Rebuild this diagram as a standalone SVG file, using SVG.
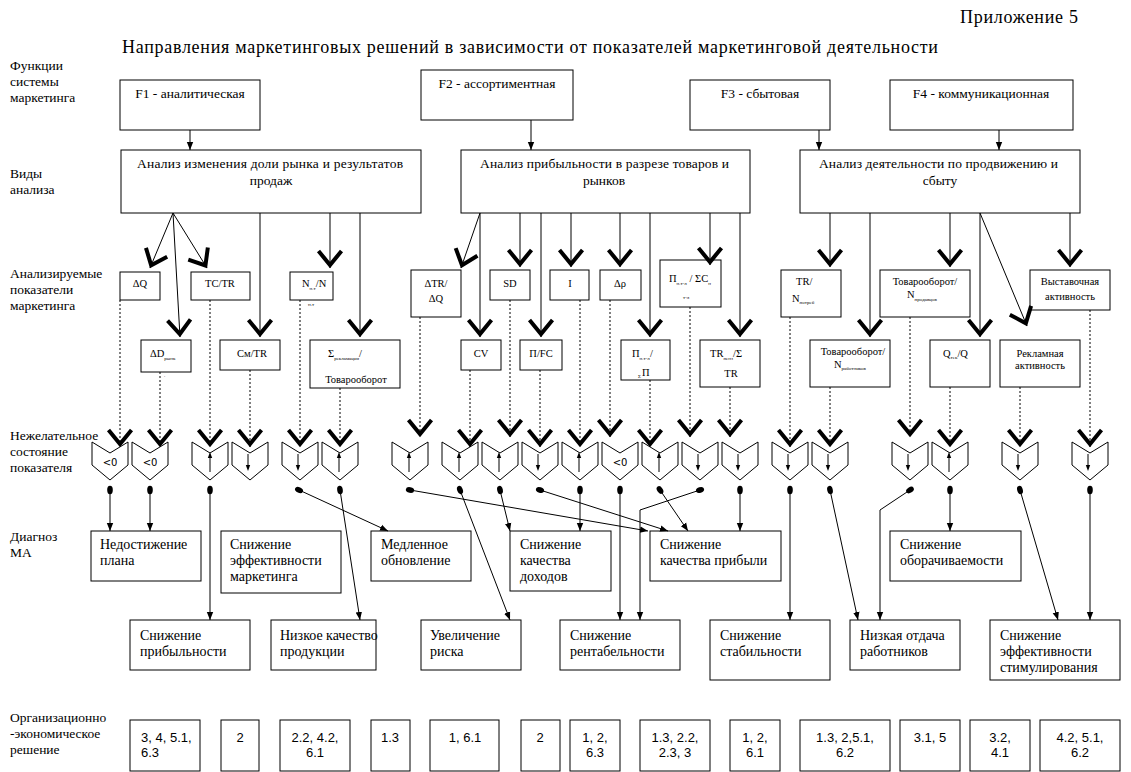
<svg xmlns="http://www.w3.org/2000/svg" xmlns:xlink="http://www.w3.org/1999/xlink" width="1131" height="772" viewBox="0 0 1131 772">
<style>
text{font-family:"Liberation Serif",serif;fill:#000}
.lbl{font-size:13.5px}
.box{fill:#fff;stroke:#000;stroke-width:1}
.ft{font-size:13.5px}
.ind{font-size:10.5px}
.sub{font-size:5px}
.dg{font-size:14px}
.num{font-family:"Liberation Sans",sans-serif;font-size:13px}
.lt{font-family:"DejaVu Sans",sans-serif;font-size:10px}
.c{fill:none;stroke:#000;stroke-width:1}
.sa{marker-end:url(#tri)}
.va{marker-end:url(#vee)}
.dot{stroke-dasharray:2 2}
.dc{marker-start:url(#oval);marker-end:url(#tri)}
</style>
<defs>
<marker id="tri" viewBox="0 0 10 10" refX="10" refY="5" markerWidth="8" markerHeight="8" markerUnits="userSpaceOnUse" orient="auto"><path d="M0,1 L10,5 L0,9 Z" fill="#000"/></marker>
<marker id="vee" viewBox="-20 -14 24 28" refX="0" refY="0" markerWidth="24" markerHeight="28" markerUnits="userSpaceOnUse" orient="auto" overflow="visible"><path d="M-17,-11.5 L-3,0 L-17,11.5" fill="none" stroke="#000" stroke-width="4" stroke-linejoin="miter"/></marker>
<marker id="oval" viewBox="-5 -4 10 8" refX="0" refY="0" markerWidth="10" markerHeight="8" markerUnits="userSpaceOnUse" orient="auto"><ellipse cx="0" cy="0" rx="4.2" ry="2.8" fill="#000"/></marker>
<path id="chev" d="M-18,0 L0,11 L18,0 L18,23 L0,38 L-18,23 Z"/>
<g id="up"><path d="M0,30 V14" fill="none" stroke="#000"/><path d="M-2.2,16 L0,10 L2.2,16 Z" fill="#000"/></g>
<g id="dn"><path d="M0,12 V25" fill="none" stroke="#000"/><path d="M-2.2,23 L0,29 L2.2,23 Z" fill="#000"/></g>
</defs>
<rect width="1131" height="772" fill="#fff"/>

<text x="960" y="23" font-size="18" textLength="118">Приложение 5</text>
<text x="122" y="53" font-size="18" textLength="816">Направления маркетинговых решений в зависимости от показателей маркетинговой деятельности</text>

<g id="row-labels" class="lbl">
<text x="10" y="70">Функции</text><text x="10" y="86">системы</text><text x="10" y="102">маркетинга</text>
<text x="10" y="178">Виды</text><text x="10" y="194">анализа</text>
<text x="10" y="278">Анализируемые</text><text x="10" y="294">показатели</text><text x="10" y="310">маркетинга</text>
<text x="10" y="440">Нежелательное</text><text x="10" y="456">состояние</text><text x="10" y="472">показателя</text>
<text x="10" y="541">Диагноз</text><text x="10" y="557">МА</text>
<text x="10" y="722">Организационно</text><text x="10" y="738">-экономическое</text><text x="10" y="754">решение</text>
</g>

<g id="F1"><rect class="box" x="120" y="80" width="140" height="50"/><text class="ft" x="190" y="98" text-anchor="middle">F1 - аналитическая</text></g>
<g id="F2"><rect class="box" x="421" y="70" width="152" height="50"/><text class="ft" x="497" y="88" text-anchor="middle">F2 - ассортиментная</text></g>
<g id="F3"><rect class="box" x="690" y="80" width="140" height="50"/><text class="ft" x="760" y="98" text-anchor="middle">F3 - сбытовая</text></g>
<g id="F4"><rect class="box" x="890" y="80" width="183" height="50"/><text class="ft" x="981" y="98" text-anchor="middle">F4 - коммуникационная</text></g>

<g id="A1"><rect class="box" x="121" y="150" width="300" height="63"/><text class="ft" x="137" y="168" textLength="266">Анализ изменения доли рынка и результатов</text><text class="ft" x="271" y="185" text-anchor="middle">продаж</text></g>
<g id="A2"><rect class="box" x="461" y="150" width="289" height="63"/><text class="ft" x="480" y="168" textLength="249">Анализ прибыльности в разрезе товаров и</text><text class="ft" x="604" y="185" text-anchor="middle">рынков</text></g>
<g id="A3"><rect class="box" x="800" y="150" width="280" height="63"/><text class="ft" x="819" y="168" textLength="239">Анализ деятельности по продвижению и</text><text class="ft" x="940" y="185" text-anchor="middle">сбыту</text></g>

<!-- indicators -->
<g id="i-dQ"><rect class="box" x="120" y="272" width="40" height="28"/><text class="ind" x="140" y="287" text-anchor="middle">ΔQ</text></g>
<g id="i-TCTR"><rect class="box" x="191" y="272" width="59" height="28"/><text class="ind" x="220" y="287" text-anchor="middle">TC/TR</text></g>
<g id="i-N"><rect class="box" x="290" y="272" width="43" height="28"/><text class="ind" x="302" y="287">N<tspan class="sub" dy="3">н.т</tspan><tspan dy="-3">/N</tspan></text><text class="sub" x="308" y="306">н.т</text></g>
<g id="i-dD"><rect class="box" x="141" y="340" width="50" height="32"/><text class="ind" x="150" y="357">ΔD<tspan class="sub" dy="3">рынк</tspan></text><text class="sub" x="164" y="377">.</text></g>
<g id="i-CmTR"><rect class="box" x="220" y="340" width="60" height="30"/><text class="ind" x="252" y="357" text-anchor="middle">Cм/TR</text></g>
<g id="i-Srek"><rect class="box" x="310" y="340" width="90" height="48"/><text class="ind" x="328" y="357">Σ<tspan class="sub" dy="3">рекламация</tspan><tspan dy="-3">/</tspan></text><text class="ind" x="356" y="383" text-anchor="middle">Товарооборот</text></g>
<g id="i-dTRdQ"><rect class="box" x="411" y="270" width="50" height="47"/><text class="ind" x="436" y="287" text-anchor="middle">ΔTR/</text><text class="ind" x="436" y="302" text-anchor="middle">ΔQ</text></g>
<g id="i-SD"><rect class="box" x="490" y="270" width="40" height="30"/><text class="ind" x="510" y="287" text-anchor="middle">SD</text></g>
<g id="i-I"><rect class="box" x="550" y="270" width="39" height="30"/><text class="ind" x="570" y="287" text-anchor="middle">I</text></g>
<g id="i-drho"><rect class="box" x="600" y="270" width="41" height="30"/><text class="ind" x="620" y="287" text-anchor="middle">Δρ</text></g>
<g id="i-PSC"><rect class="box" x="660" y="260" width="61" height="47"/><text class="ind" x="669" y="282">П<tspan class="sub" dy="3">н.т-л</tspan><tspan dy="-3"> / ΣC</tspan><tspan class="sub" dy="3">н</tspan></text><text class="sub" x="683" y="299">т-л</text></g>
<g id="i-CV"><rect class="box" x="461" y="340" width="40" height="30"/><text class="ind" x="481" y="357" text-anchor="middle">CV</text></g>
<g id="i-PFC"><rect class="box" x="520" y="340" width="42" height="30"/><text class="ind" x="541" y="357" text-anchor="middle">П/FC</text></g>
<g id="i-PSP"><rect class="box" x="621" y="340" width="49" height="40"/><text class="ind" x="632" y="357">П<tspan class="sub" dy="3">н.т-л</tspan><tspan dy="-3">/</tspan></text><text class="sub" x="638" y="378">Σ</text><text class="ind" x="642" y="376">П</text></g>
<g id="i-TRpenz"><rect class="box" x="700" y="340" width="60" height="47"/><text class="ind" x="710" y="357">TR<tspan class="sub" dy="3">пенз</tspan><tspan dy="-3">/Σ</tspan></text><text class="ind" x="731" y="377" text-anchor="middle">TR</text></g>
<g id="i-TRNp"><rect class="box" x="781" y="270" width="60" height="47"/><text class="ind" x="796" y="285">TR/</text><text class="ind" x="792" y="302">N<tspan class="sub" dy="2">потреб</tspan></text></g>
<g id="i-TovNprod"><rect class="box" x="880" y="270" width="90" height="47"/><text class="ind" x="925" y="285" text-anchor="middle">Товарооборот/</text><text class="ind" x="907" y="298">N<tspan class="sub" dy="3">продавцов</tspan></text></g>
<g id="i-Vyst"><rect class="box" x="1030" y="270" width="80" height="40"/><text class="ind" x="1070" y="285" text-anchor="middle">Выставочная</text><text class="ind" x="1070" y="300" text-anchor="middle">активность</text></g>
<g id="i-TovNrab"><rect class="box" x="810" y="340" width="80" height="47"/><text class="ind" x="853" y="355" text-anchor="middle">Товарооборот/</text><text class="ind" x="834" y="368">N<tspan class="sub" dy="2">работников</tspan></text></g>
<g id="i-Qtek"><rect class="box" x="930" y="340" width="60" height="47"/><text class="ind" x="943" y="357">Q<tspan class="sub" dy="2">тек</tspan><tspan dy="-2">/Q</tspan></text></g>
<g id="i-Rekl"><rect class="box" x="1000" y="340" width="80" height="47"/><text class="ind" x="1040" y="357" text-anchor="middle">Рекламная</text><text class="ind" x="1040" y="369" text-anchor="middle">активность</text></g>

<!-- undesired states -->
<g id="s1"><use xlink:href="#chev" class="box" x="110" y="442"/><text class="lt" x="110" y="466" text-anchor="middle">&lt;0</text></g>
<g id="s2"><use xlink:href="#chev" class="box" x="150" y="442"/><text class="lt" x="150" y="466" text-anchor="middle">&lt;0</text></g>
<g id="s3"><use xlink:href="#chev" class="box" x="210" y="442"/><use xlink:href="#up" x="210" y="442"/></g>
<g id="s4"><use xlink:href="#chev" class="box" x="250" y="442"/><use xlink:href="#dn" x="248" y="442"/></g>
<g id="s5"><use xlink:href="#chev" class="box" x="300" y="442"/><use xlink:href="#dn" x="298" y="442"/></g>
<g id="s6"><use xlink:href="#chev" class="box" x="340" y="442"/><use xlink:href="#up" x="339" y="442"/></g>
<g id="s7"><use xlink:href="#chev" class="box" x="410" y="442"/><use xlink:href="#up" x="409" y="442"/></g>
<g id="s8"><use xlink:href="#chev" class="box" x="460" y="442"/><use xlink:href="#up" x="459" y="442"/></g>
<g id="s9"><use xlink:href="#chev" class="box" x="500" y="442"/><use xlink:href="#up" x="499" y="442"/></g>
<g id="s10"><use xlink:href="#chev" class="box" x="540" y="442"/><use xlink:href="#dn" x="538" y="442"/></g>
<g id="s11"><use xlink:href="#chev" class="box" x="580" y="442"/><use xlink:href="#up" x="579" y="442"/></g>
<g id="s12"><use xlink:href="#chev" class="box" x="620" y="442"/><text class="lt" x="620" y="466" text-anchor="middle">&lt;0</text></g>
<g id="s13"><use xlink:href="#chev" class="box" x="660" y="442"/><use xlink:href="#up" x="659" y="442"/></g>
<g id="s14"><use xlink:href="#chev" class="box" x="700" y="442"/><use xlink:href="#dn" x="698" y="442"/></g>
<g id="s15"><use xlink:href="#chev" class="box" x="740" y="442"/><use xlink:href="#dn" x="738" y="442"/></g>
<g id="s16"><use xlink:href="#chev" class="box" x="790" y="442"/><use xlink:href="#dn" x="788" y="442"/></g>
<g id="s17"><use xlink:href="#chev" class="box" x="830" y="442"/><use xlink:href="#dn" x="828" y="442"/></g>
<g id="s18"><use xlink:href="#chev" class="box" x="910" y="442"/><use xlink:href="#dn" x="908" y="442"/></g>
<g id="s19"><use xlink:href="#chev" class="box" x="950" y="442"/><use xlink:href="#up" x="949" y="442"/></g>
<g id="s20"><use xlink:href="#chev" class="box" x="1020" y="442"/><use xlink:href="#dn" x="1018" y="442"/></g>
<g id="s21"><use xlink:href="#chev" class="box" x="1090" y="442"/><use xlink:href="#dn" x="1088" y="442"/></g>

<!-- diagnoses -->
<g id="d1"><rect class="box" x="91" y="531" width="110" height="50"/><text class="dg" x="100" y="549">Недостижение</text><text class="dg" x="100" y="565">плана</text></g>
<g id="d2"><rect class="box" x="221" y="531" width="120" height="62"/><text class="dg" x="230" y="549">Снижение</text><text class="dg" x="230" y="565">эффективности</text><text class="dg" x="230" y="581">маркетинга</text></g>
<g id="d3"><rect class="box" x="371" y="531" width="100" height="50"/><text class="dg" x="381" y="549">Медленное</text><text class="dg" x="381" y="565">обновление</text></g>
<g id="d4"><rect class="box" x="510" y="531" width="101" height="60"/><text class="dg" x="520" y="549">Снижение</text><text class="dg" x="520" y="565">качества</text><text class="dg" x="520" y="581">доходов</text></g>
<g id="d5"><rect class="box" x="650" y="531" width="131" height="50"/><text class="dg" x="660" y="549">Снижение</text><text class="dg" x="660" y="565">качества прибыли</text></g>
<g id="d6"><rect class="box" x="890" y="531" width="131" height="50"/><text class="dg" x="900" y="549">Снижение</text><text class="dg" x="900" y="565">оборачиваемости</text></g>
<g id="d7"><rect class="box" x="130" y="620" width="120" height="50"/><text class="dg" x="140" y="640">Снижение</text><text class="dg" x="140" y="656">прибыльности</text></g>
<g id="d8"><rect class="box" x="271" y="620" width="105" height="50"/><text class="dg" x="280" y="640">Низкое качество</text><text class="dg" x="280" y="656">продукции</text></g>
<g id="d9"><rect class="box" x="421" y="620" width="100" height="50"/><text class="dg" x="430" y="640">Увеличение</text><text class="dg" x="430" y="656">риска</text></g>
<g id="d10"><rect class="box" x="560" y="620" width="120" height="50"/><text class="dg" x="570" y="640">Снижение</text><text class="dg" x="570" y="656">рентабельности</text></g>
<g id="d11"><rect class="box" x="710" y="620" width="120" height="60"/><text class="dg" x="720" y="640">Снижение</text><text class="dg" x="720" y="656">стабильности</text></g>
<g id="d12"><rect class="box" x="850" y="620" width="110" height="50"/><text class="dg" x="860" y="640">Низкая отдача</text><text class="dg" x="860" y="656">работников</text></g>
<g id="d13"><rect class="box" x="990" y="620" width="130" height="60"/><text class="dg" x="1000" y="640">Снижение</text><text class="dg" x="1000" y="656">эффективности</text><text class="dg" x="1000" y="672">стимулирования</text></g>

<!-- decisions -->
<g id="r1"><rect class="box" x="130" y="720" width="70" height="51"/><text class="num" x="141" y="742">3, 4, 5.1,</text><text class="num" x="141" y="757">6.3</text></g>
<g id="r2"><rect class="box" x="221" y="720" width="38" height="51"/><text class="num" x="240" y="742" text-anchor="middle">2</text></g>
<g id="r3"><rect class="box" x="280" y="720" width="70" height="51"/><text class="num" x="315" y="742" text-anchor="middle">2.2, 4.2,</text><text class="num" x="315" y="757" text-anchor="middle">6.1</text></g>
<g id="r4"><rect class="box" x="371" y="720" width="39" height="51"/><text class="num" x="390" y="742" text-anchor="middle">1.3</text></g>
<g id="r5"><rect class="box" x="430" y="720" width="69" height="51"/><text class="num" x="465" y="742" text-anchor="middle">1, 6.1</text></g>
<g id="r6"><rect class="box" x="521" y="720" width="39" height="51"/><text class="num" x="540" y="742" text-anchor="middle">2</text></g>
<g id="r7"><rect class="box" x="570" y="720" width="50" height="51"/><text class="num" x="595" y="742" text-anchor="middle">1, 2,</text><text class="num" x="595" y="757" text-anchor="middle">6.3</text></g>
<g id="r8"><rect class="box" x="640" y="720" width="70" height="51"/><text class="num" x="675" y="742" text-anchor="middle">1.3, 2.2,</text><text class="num" x="675" y="757" text-anchor="middle">2.3, 3</text></g>
<g id="r9"><rect class="box" x="730" y="720" width="50" height="51"/><text class="num" x="755" y="742" text-anchor="middle">1, 2,</text><text class="num" x="755" y="757" text-anchor="middle">6.1</text></g>
<g id="r10"><rect class="box" x="800" y="720" width="90" height="51"/><text class="num" x="845" y="742" text-anchor="middle">1.3, 2,5.1,</text><text class="num" x="845" y="757" text-anchor="middle">6.2</text></g>
<g id="r11"><rect class="box" x="900" y="720" width="60" height="51"/><text class="num" x="930" y="742" text-anchor="middle">3.1, 5</text></g>
<g id="r12"><rect class="box" x="970" y="720" width="60" height="51"/><text class="num" x="1000" y="742" text-anchor="middle">3.2,</text><text class="num" x="1000" y="757" text-anchor="middle">4.1</text></g>
<g id="r13"><rect class="box" x="1040" y="720" width="80" height="51"/><text class="num" x="1080" y="742" text-anchor="middle">4.2, 5.1,</text><text class="num" x="1080" y="757" text-anchor="middle">6.2</text></g>

<g id="connectors" class="c">
<!-- F to analysis -->
<path class="sa" d="M190,130 V150"/>
<path class="sa" d="M531,120 V150"/>
<path class="sa" d="M819,130 V150"/>
<path class="sa" d="M999,130 V150"/>
<!-- analysis to indicators -->
<path class="va" d="M173,213 L150,268"/>
<path class="va" d="M173,213 L180,337"/>
<path class="va" d="M173,213 L207,268"/>
<path class="va" d="M260,213 V337"/>
<path class="va" d="M330,213 V268"/>
<path class="va" d="M360,213 V337"/>
<path class="va" d="M480,213 L461,268"/>
<path class="va" d="M480,213 V337"/>
<path class="va" d="M520,213 V267"/>
<path class="va" d="M541,213 V337"/>
<path class="va" d="M571,213 V267"/>
<path class="va" d="M620,213 V267"/>
<path class="va" d="M650,213 V337"/>
<path class="va" d="M710,213 V265"/>
<path class="va" d="M740,213 V337"/>
<path class="va" d="M830,213 V267"/>
<path class="va" d="M870,213 V337"/>
<path class="va" d="M950,213 V267"/>
<path class="va" d="M980,213 V337"/>
<path class="va" d="M980,213 L1027,326"/>
<path class="va" d="M1070,213 V267"/>
<!-- dotted indicator to state -->
<g class="dot">
<path class="va" d="M120,300 V447"/>
<path class="va" d="M160,372 V447"/>
<path class="va" d="M210,300 V447"/>
<path class="va" d="M250,370 V447"/>
<path class="va" d="M300,300 V447"/>
<path class="va" d="M340,388 V447"/>
<path class="va" d="M420,317 V437"/>
<path class="va" d="M470,370 V447"/>
<path class="va" d="M510,300 V437"/>
<path class="va" d="M540,370 V447"/>
<path class="va" d="M580,300 V447"/>
<path class="va" d="M610,300 V437"/>
<path class="va" d="M650,380 V447"/>
<path class="va" d="M690,307 V437"/>
<path class="va" d="M730,387 V437"/>
<path class="va" d="M790,317 V447"/>
<path class="va" d="M830,387 V447"/>
<path class="va" d="M910,317 V437"/>
<path class="va" d="M950,387 V447"/>
<path class="va" d="M1020,387 V447"/>
<path class="va" d="M1090,310 V447"/>
</g>
<!-- state to diagnosis -->
<path class="dc" d="M110,490 V531"/>
<path class="dc" d="M150,490 V531"/>
<path class="dc" d="M210,490 V620"/>
<path class="dc" d="M299,490 L388,531"/>
<path class="dc" d="M340,490 L360,620"/>
<path class="dc" d="M410,490 L648,531"/>
<path class="dc" d="M460,490 L510,620"/>
<path class="dc" d="M500,490 L510,531"/>
<path class="dc" d="M540,490 L668,531"/>
<path class="dc" d="M580,490 V531"/>
<path class="dc" d="M620,490 V620"/>
<path class="dc" d="M660,490 L688,531"/>
<path class="dc" d="M700,490 L640,510 V620"/>
<path class="dc" d="M740,490 V531"/>
<path class="dc" d="M790,490 V620"/>
<path class="dc" d="M830,490 L858,620"/>
<path class="dc" d="M910,490 L880,510 V620"/>
<path class="dc" d="M950,490 V531"/>
<path class="dc" d="M1020,490 L1058,620"/>
<path class="dc" d="M1090,490 V620"/>
</g>
</svg>
